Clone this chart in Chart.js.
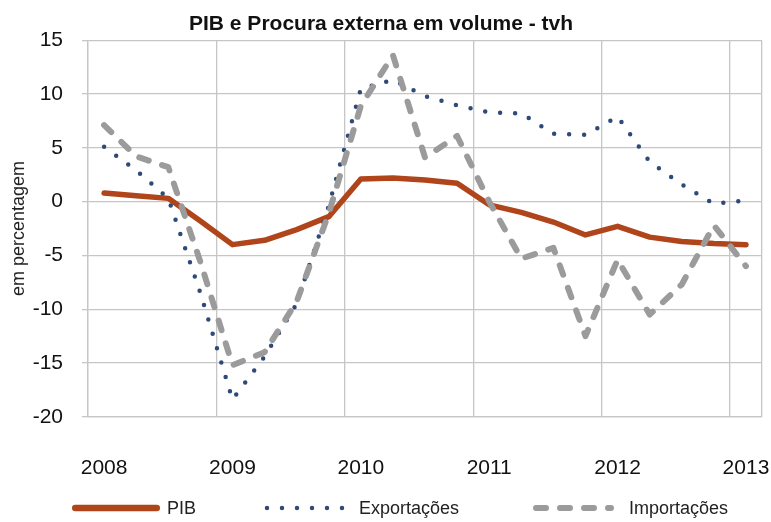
<!DOCTYPE html>
<html>
<head>
<meta charset="utf-8">
<script src="https://cdn.jsdelivr.net/npm/chart.js@4/dist/chart.umd.min.js"></script>
<style>
  html, body { margin: 0; padding: 0; background: #ffffff; }
  #wrap { width: 771px; height: 522px; }
</style>
</head>
<body>
<div id="wrap"><canvas id="c" width="771" height="522"></canvas></div>
<script>
// ---------- DATA ----------
const years = ['2008', '2009', '2010', '2011', '2012', '2013'];
const quarters = ['T1', 'T2', 'T3', 'T4'];
// quarterly categories 2008 T1 ... 2013 T1
const categories = [];
years.forEach(function (y) {
  quarters.forEach(function (q) {
    if (categories.length < 21) categories.push(y + ' ' + q);
  });
});

const pib         = [0.8, 0.55, 0.3, -1.8, -4.0, -3.6, -2.6, -1.4, 2.1, 2.2, 2.0, 1.7, -0.3, -1.0, -1.9, -3.1, -2.3, -3.3, -3.7, -3.9, -4.0];
const exportacoes = [5.1, 2.9, 0.3, -8.5, -18.4, -14.4, -9.5, -0.4, 10.5, 11.3, 9.8, 8.95, 8.3, 8.2, 6.3, 6.2, 7.9, 3.7, 1.6, -0.2, 0.1];
const importacoes = [7.1, 4.2, 3.2, -5.6, -15.2, -14.0, -9.3, -1.1, 8.9, 13.6, 4.1, 6.1, 0.0, -5.3, -4.3, -12.5, -5.4, -10.5, -7.7, -2.2, -6.0];

const seriesNames = ['PIB', 'Exportações', 'Importações'];
const yMin = -20, yMax = 15, yStep = 5;
const chartTitle = 'PIB e Procura externa em volume - tvh';
const yAxisTitle = 'em percentagem';

// ---------- STYLE ----------
const FONT = '"Liberation Sans", Arial, Helvetica, sans-serif';
const GRID = '#c6c6c6';

// custom legend (same order as datasets, drawn with their own styles)
const legendLayout = [
  { x: 72,  w: 88, tx: 167 },
  { x: 267, w: 80, tx: 359 },
  { x: 533, w: 78, tx: 629 }
];
const customLegend = {
  id: 'customLegend',
  afterDraw(chart) {
    const ctx = chart.ctx;
    const y = 508;
    ctx.save();
    chart.data.datasets.forEach(function (ds, i) {
      const L = legendLayout[i];
      const dash = ds.borderDash || [];
      ctx.beginPath();
      ctx.strokeStyle = ds.borderColor;
      ctx.lineWidth = ds.borderWidth + (i === 0 ? 1 : 0);
      ctx.lineCap = ds.borderCapStyle || 'butt';
      ctx.setLineDash(dash);
      const half = ctx.lineWidth / 2;
      const startPad = (dash.length === 0 || dash[0] > 0) ? half : 0;
      const endPad = dash.length === 0 ? half : 0;
      ctx.moveTo(L.x + startPad, y);
      ctx.lineTo(L.x + L.w - endPad, y);
      ctx.stroke();
      ctx.setLineDash([]);
      ctx.fillStyle = '#222';
      ctx.font = '18px ' + FONT;
      ctx.textBaseline = 'middle';
      ctx.textAlign = 'left';
      ctx.fillText(ds.label, L.tx, y + 1);
    });
    ctx.restore();
  }
};

new Chart(document.getElementById('c'), {
  type: 'line',
  data: {
    labels: categories,
    datasets: [
      {
        label: seriesNames[0],
        data: pib,
        borderColor: '#b0441a',
        borderWidth: 5.5,
        borderCapStyle: 'round',
        borderJoinStyle: 'round',
        pointRadius: 0,
        tension: 0,
        fill: false,
        order: 3
      },
      {
        label: seriesNames[1],
        data: exportacoes,
        borderColor: '#2e4a78',
        borderWidth: 4.5,
        borderDash: [0, 15],
        borderCapStyle: 'round',
        borderJoinStyle: 'round',
        pointRadius: 0,
        tension: 0,
        fill: false,
        order: 2
      },
      {
        label: seriesNames[2],
        data: importacoes,
        borderColor: '#9b9b9b',
        borderWidth: 6,
        borderDash: [10, 14],
        borderCapStyle: 'round',
        borderJoinStyle: 'round',
        pointRadius: 0,
        tension: 0,
        fill: false,
        order: 1
      }
    ]
  },
  options: {
    responsive: false,
    animation: false,
    devicePixelRatio: 1,
    layout: { padding: { left: 0, right: 9, top: 0, bottom: 41 } },
    plugins: {
      legend: { display: false },
      tooltip: { enabled: false },
      title: {
        display: true,
        text: chartTitle,
        color: '#111',
        font: { family: FONT, size: 21, weight: 'bold' },
        padding: { top: 12, bottom: 3 }
      }
    },
    scales: {
      x: {
        type: 'category',
        offset: true,
        grid: {
          offset: true,
          drawTicks: true,
          tickLength: 39,
          tickColor: 'rgba(0,0,0,0)',
          lineWidth: 1.3,
          color: function (c) {
            if (c.index === undefined || c.index % 4 === 0) return GRID;
            return 'rgba(0,0,0,0)';
          }
        },
        border: { color: GRID, width: 1.3 },
        ticks: {
          autoSkip: false,
          maxRotation: 0,
          minRotation: 0,
          padding: 0,
          color: '#111',
          font: { family: FONT, size: 21 },
          callback: function (value, index) {
            const lab = this.getLabelForValue(value);
            return lab.endsWith('T1') ? lab.slice(0, 4) : '';
          }
        }
      },
      y: {
        min: yMin,
        max: yMax,
        grid: { color: GRID, lineWidth: 1.3, tickLength: 6 },
        border: { color: GRID, width: 1.3 },
        ticks: {
          stepSize: yStep,
          padding: 19,
          color: '#111',
          font: { family: FONT, size: 21 }
        },
        title: {
          display: true,
          text: yAxisTitle,
          color: '#222',
          font: { family: FONT, size: 18 },
          padding: { top: 8, bottom: -15.9 }
        }
      }
    }
  },
  plugins: [customLegend]
});
</script>
</body>
</html>
